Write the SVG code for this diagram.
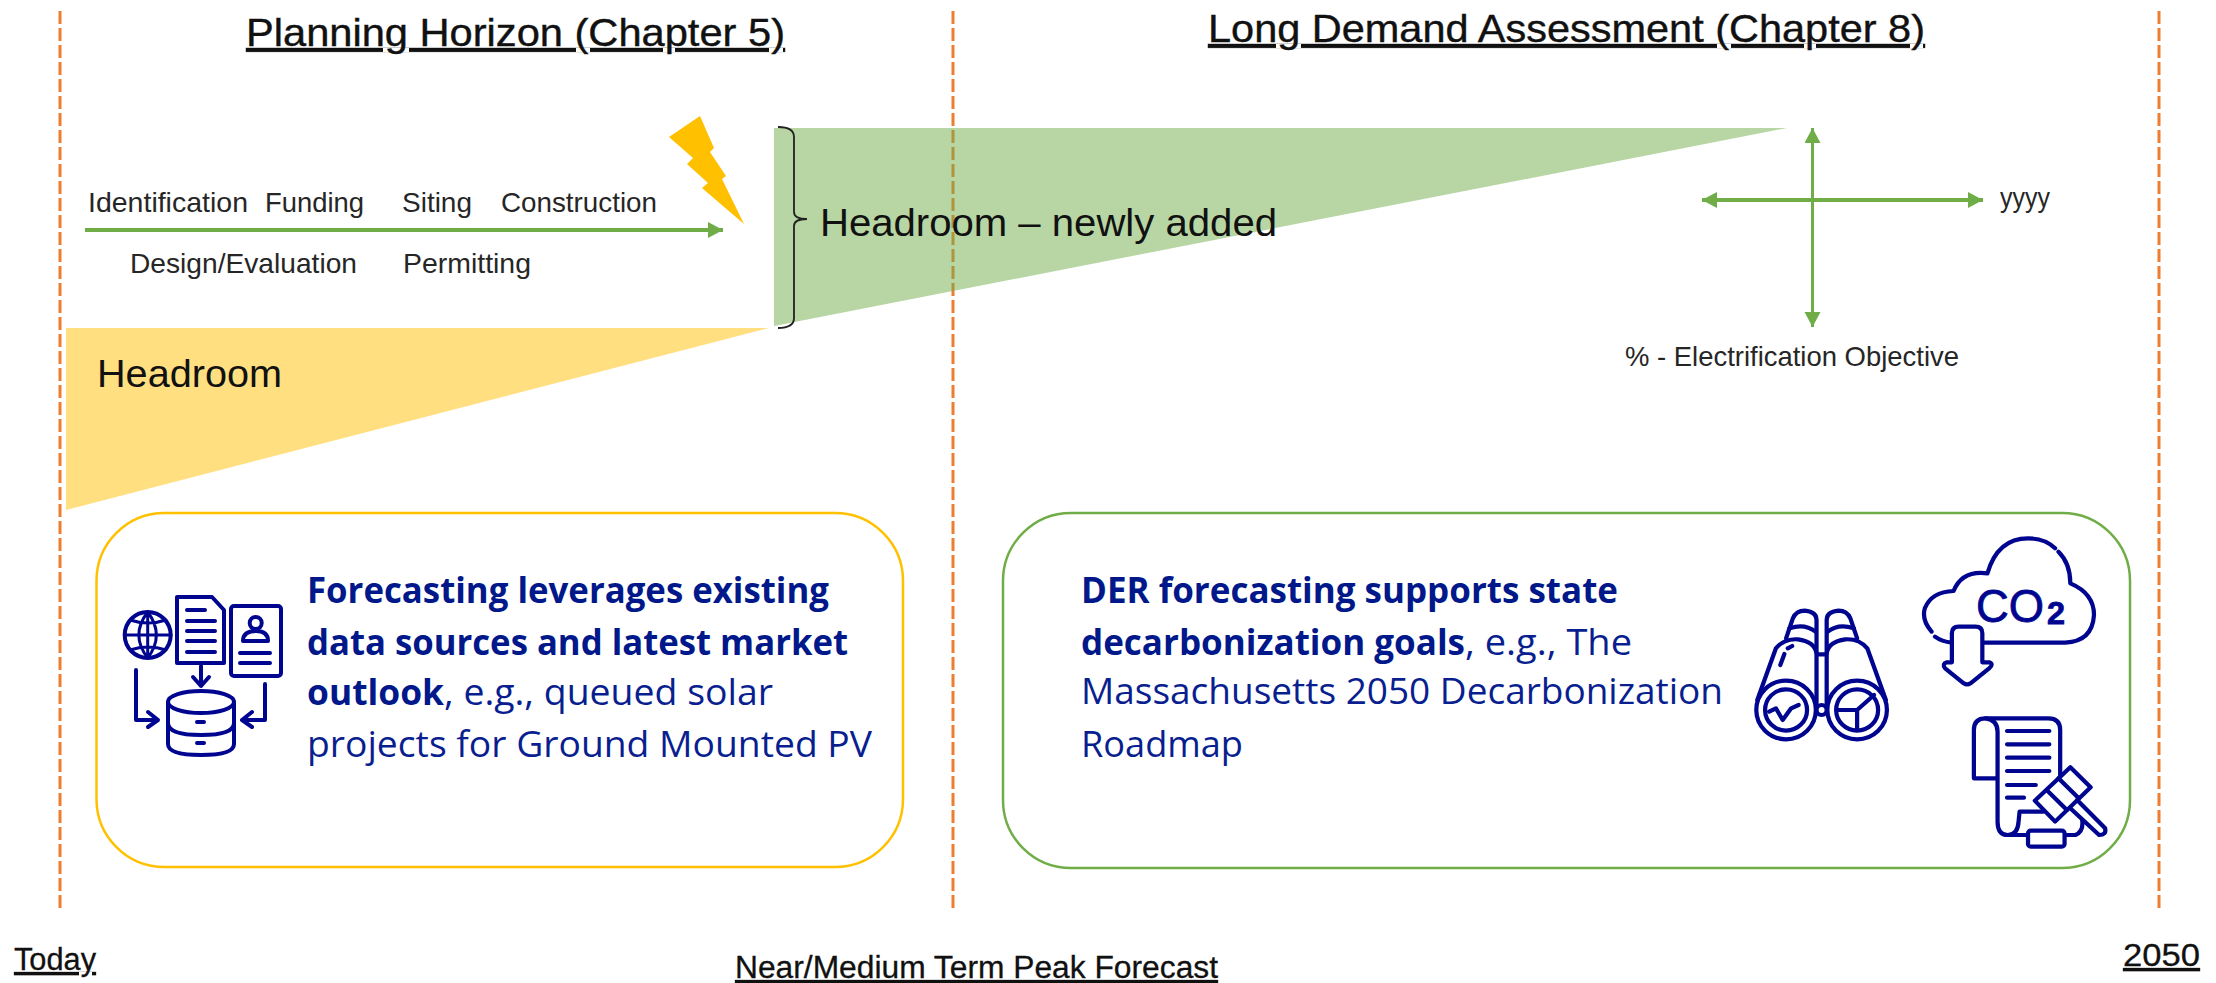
<svg xmlns="http://www.w3.org/2000/svg" width="2216" height="983" viewBox="0 0 2216 983">
<style>
text{font-family:"Liberation Sans",Arial,sans-serif;fill:#111}
.title{font-size:39px;text-decoration:underline;stroke:#111;stroke-width:.4}
.foot{font-size:31px;text-decoration:underline;stroke:#111;stroke-width:.3}
.step{font-size:28px;fill:#262626}
.big{font-size:38px}
.body{font-family:"Open Sans","Noto Sans",sans-serif;font-size:36px;fill:#0A1F8F}
.b{font-weight:700;fill:#00188A}
.dash{stroke:#ED7D31;stroke-width:3;stroke-dasharray:13 4;fill:none}
.ln{stroke:#70AD47;fill:none}
.ic{fill:none;stroke:#00058F;stroke-linecap:round;stroke-linejoin:round}
.i1{stroke-width:4}
.i2{stroke-width:12.5}
.co{fill:#00058F;stroke:#00058F;stroke-width:.8}
</style>
<defs>
<marker id="ah" markerUnits="userSpaceOnUse" markerWidth="16" markerHeight="17" refX="15" refY="8" orient="auto-start-reverse"><path d="M0 0L15 8L0 16Z" fill="#70AD47"/></marker>
</defs>
<rect width="2216" height="983" fill="#fff"/>
<g id="timeline">
<path class="dash" d="M60 11V911"/>
<path class="dash" d="M953 11V911"/>
<path class="dash" d="M2159 11V911"/>
</g>
<g id="headroom-existing">
<path d="M66 328H769L66 510Z" fill="#FFC000" opacity=".5"/>
<text class="big" x="97" y="387" textLength="185" lengthAdjust="spacingAndGlyphs">Headroom</text>
</g>
<g id="headroom-new">
<path d="M774 128H1787L774 326Z" fill="#70AD47" opacity=".5"/>
<path d="M778 127Q794 127 794 137V212Q794 219 807 219Q794 219 794 226V318Q794 328 778 328" fill="none" stroke="#222" stroke-width="1.8"/>
<text class="big" x="820" y="236" textLength="457" lengthAdjust="spacingAndGlyphs">Headroom – newly added</text>
</g>
<g id="lightning"><path d="M700 116L714 148L710 152L726 176L722 179L744 224L702 188L708 183L687 164L693 158L669 137Z" fill="#FFC000"/></g>
<g id="titles">
<text class="title" x="246" y="46" textLength="539" lengthAdjust="spacingAndGlyphs">Planning Horizon (Chapter 5)</text>
<text class="title" x="1208" y="42" textLength="717" lengthAdjust="spacingAndGlyphs">Long Demand Assessment (Chapter 8)</text>
</g>
<g id="connectors">
<path class="ln" stroke-width="4" d="M85 230H723" marker-end="url(#ah)"/>
<path class="ln" stroke-width="3" d="M1812.5 128V327" marker-start="url(#ah)" marker-end="url(#ah)"/>
<path class="ln" stroke-width="4" d="M1702 200H1983" marker-start="url(#ah)" marker-end="url(#ah)"/>
</g>
<g id="steps">
<text class="step" x="88" y="212" textLength="160" lengthAdjust="spacingAndGlyphs">Identification</text>
<text class="step" x="265" y="212" textLength="99" lengthAdjust="spacingAndGlyphs">Funding</text>
<text class="step" x="402" y="212" textLength="70" lengthAdjust="spacingAndGlyphs">Siting</text>
<text class="step" x="501" y="212" textLength="156" lengthAdjust="spacingAndGlyphs">Construction</text>
<text class="step" x="130" y="273" textLength="227" lengthAdjust="spacingAndGlyphs">Design/Evaluation</text>
<text class="step" x="403" y="273" textLength="128" lengthAdjust="spacingAndGlyphs">Permitting</text>
</g>
<g id="axis-labels">
<text class="step" x="2000" y="207" textLength="50" lengthAdjust="spacingAndGlyphs">yyyy</text>
<text class="step" x="1625" y="366" textLength="334" lengthAdjust="spacingAndGlyphs">% - Electrification Objective</text>
</g>
<g id="card-left">
<rect x="96.5" y="513" width="806.5" height="354" rx="68" fill="#fff" stroke="#FFC000" stroke-width="2.5"/>
<text class="body"><tspan class="b" x="307" y="603" textLength="522" lengthAdjust="spacingAndGlyphs">Forecasting leverages existing</tspan></text>
<text class="body"><tspan class="b" x="307" y="655" textLength="541" lengthAdjust="spacingAndGlyphs">data sources and latest market</tspan></text>
<text class="body"><tspan class="b" x="307" y="705" textLength="137" lengthAdjust="spacingAndGlyphs">outlook</tspan><tspan x="444" y="705" textLength="329" lengthAdjust="spacingAndGlyphs">, e.g., queued solar</tspan></text>
<text class="body"><tspan x="307" y="757" textLength="565" lengthAdjust="spacingAndGlyphs">projects for Ground Mounted PV</tspan></text>
<g id="icon-data" class="ic i1">
<circle cx="147.7" cy="635" r="23"/>
<path d="M125 635H171M147.7 612V658M130 620Q148 626 166 620M130 650Q148 644 166 650M147.7 612Q130 635 147.7 658M147.7 612Q165 635 147.7 658" stroke-width="3"/>
<path d="M177 597H212L224 610V663H177Z"/>
<path d="M187 610H205M187 621H215M187 631H215M187 641H215M187 652H215"/>
<path d="M201 666V686M193 677L201 686L209 677"/>
<rect x="231" y="606" width="50" height="70" rx="3"/>
<circle cx="255.7" cy="623" r="6"/>
<path d="M243 641Q243 631 256 631Q268 631 268 641Z"/>
<path d="M240 653H270M240 663H270"/>
<path d="M136 670V720H158M148 712L158 720L148 727"/>
<path d="M265 684V720H242M252 712L242 720L252 727"/>
<ellipse cx="201" cy="702" rx="33" ry="11"/>
<path d="M168 702V744Q168 755 201 755Q234 755 234 744V702M168 723Q168 735 201 735Q234 735 234 723"/>
<path d="M197 722H204M197 743H204"/>
</g>
</g>
<g id="card-right">
<rect x="1003" y="513" width="1127" height="355" rx="68" fill="#fff" stroke="#70AD47" stroke-width="2.5"/>
<text class="body"><tspan class="b" x="1081" y="603" textLength="537" lengthAdjust="spacingAndGlyphs">DER forecasting supports state</tspan></text>
<text class="body"><tspan class="b" x="1081" y="655" textLength="384" lengthAdjust="spacingAndGlyphs">decarbonization goals</tspan><tspan x="1465" y="655" textLength="167" lengthAdjust="spacingAndGlyphs">, e.g., The</tspan></text>
<text class="body"><tspan x="1081" y="704" textLength="642" lengthAdjust="spacingAndGlyphs">Massachusetts 2050 Decarbonization</tspan></text>
<text class="body"><tspan x="1081" y="757" textLength="162" lengthAdjust="spacingAndGlyphs">Roadmap</tspan></text>
<g id="icon-binoculars" class="ic i2" transform="translate(1737 520) scale(.3384 .3333)">
<circle cx="145" cy="570" r="88"/><circle cx="145" cy="570" r="62"/>
<circle cx="355" cy="570" r="88"/><circle cx="355" cy="570" r="62"/>
<circle cx="250" cy="570" r="15"/>
<path d="M60 540L115 385Q140 355 180 358Q230 365 235 400V550M440 540L385 385Q360 355 320 358Q270 365 265 400V550M235 403H265"/>
<path d="M145 355L165 295Q175 272 200 272Q235 275 235 300V400M355 355L335 295Q325 272 300 272Q265 275 265 300V400"/>
<path d="M155 325Q200 310 232 335M345 325Q300 310 268 335M128 435L140 402M150 385L163 378"/>
<path d="M95 575L115 565L135 600L160 565L182 555"/>
<path d="M355 570H295M355 570V630M355 570L405 525"/>
</g>
<g id="icon-co2">
<g class="ic i2" transform="translate(1737 520) scale(.3384 .3333)">
<path d="M575 335Q545 300 555 265Q575 215 640 213Q665 150 740 160Q770 55 860 55Q910 55 940 85M950 95Q985 130 985 190Q1055 220 1055 285Q1050 365 970 368H730M585 350Q605 365 635 368"/>
<path d="M635 427V340Q635 320 655 320H705Q725 320 725 340V427H745Q760 432 745 445L690 490Q680 497 670 490L615 445Q605 432 620 427Z"/>
</g>
<text class="co" x="1976" y="622" style="font-size:47px" textLength="68" lengthAdjust="spacingAndGlyphs">CO</text>
<text class="co" x="2047" y="624" style="font-size:31px;font-weight:700" textLength="18" lengthAdjust="spacingAndGlyphs">2</text>
</g>
<g id="icon-legal" class="ic i2" transform="translate(1737 520) scale(.3384 .3333)">
<path d="M765 775H700V630Q700 595 735 595H920Q955 595 955 630V770"/>
<path d="M735 595Q770 600 770 635V905Q770 945 800 945Q830 945 832 905L835 875H905M800 945H860M970 945H1000Q1025 935 1020 900"/>
<path d="M798 633H923M798 673H923M798 713H923M798 753H923M798 795H883M798 833H848"/>
<path d="M985 742L1045 802L940 905L880 842Z"/>
<path d="M950 775L1010 835M915 810L975 870"/>
<path d="M1005 840L1088 925Q1092 945 1070 945L985 865"/>
<rect x="860" y="932" width="108" height="48" rx="8"/>
</g>
</g>
<g id="footer">
<text class="foot" x="14" y="970" textLength="82" lengthAdjust="spacingAndGlyphs">Today</text>
<text class="foot" x="735" y="978" textLength="483" lengthAdjust="spacingAndGlyphs">Near/Medium Term Peak Forecast</text>
<text class="foot" x="2123" y="966" textLength="77" lengthAdjust="spacingAndGlyphs">2050</text>
</g>
</svg>
